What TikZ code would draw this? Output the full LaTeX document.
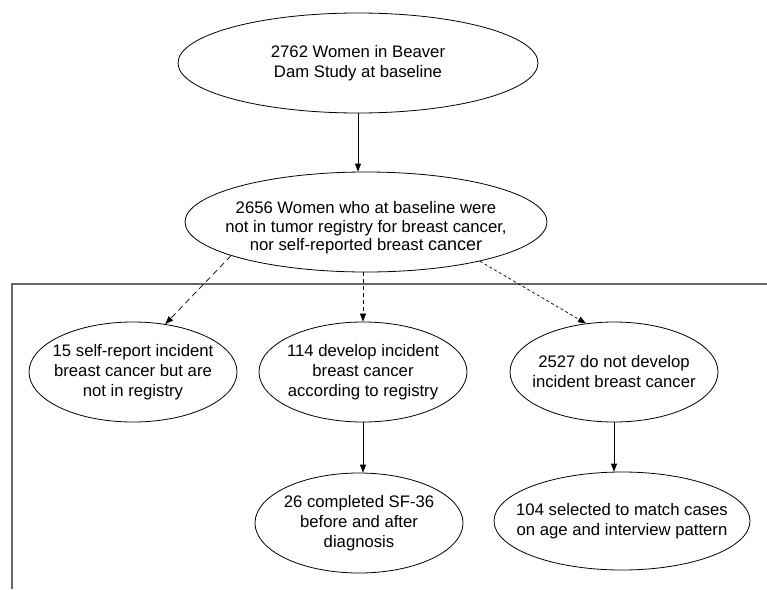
\documentclass[tikz,border=0pt]{standalone}
\usepackage{fontspec}
\setmainfont{Liberation Sans}
\usetikzlibrary{shapes.geometric, arrows.meta, calc}

\begin{document}
\begin{tikzpicture}[x=1pt, y=-1pt,
  bubble/.style={draw, ellipse, inner sep=0pt, line width=0.8pt, minimum width=208pt, minimum height=100pt},
  words/.style={align=center, inner sep=0pt, font=\fontsize{16.7}{20}\selectfont},
  solidarrow/.style={-{Triangle[length=8pt,width=6pt]}, line width=0.8pt},
  dasharrow/.style={-{Triangle[length=8pt,width=6pt]}, line width=0.7pt}]
\useasboundingbox (0,0) rectangle (767,589);
% frame line
\coordinate (frameA) at (12,589);
\coordinate (frameB) at (12,284);
\coordinate (frameC) at (767,284);
\draw[line width=1.8pt, color=black!60] (frameA) -- (frameB) -- (frameC);
% top ellipse
\node[bubble, minimum width=360pt] (base) at (358,63) {};
\node[words] (baseT) at (base) {2762 Women in Beaver\\Dam Study at baseline};
% second ellipse
\node[bubble, minimum width=362pt] (free) at (366,222) {};
\node[words, font=\fontsize{16.7}{18.5}\selectfont] (freeT) at (366,228) {2656 Women who at baseline were\\not in tumor registry for breast cancer,\\nor self-reported breast {\fontsize{18}{18.5}\selectfont cancer}};
% third row
\node[bubble] (selfrep) at (133,372) {};
\node[words] (selfrepT) at (selfrep) {15 self-report incident\\breast cancer but are\\not in registry};
\node[bubble] (cases) at (363,372) {};
\node[words] (casesT) at (cases) {114 develop incident\\breast cancer\\according to registry};
\node[bubble] (nocase) at (614,372) {};
\node[words] (nocaseT) at (nocase) {2527 do not develop\\incident breast cancer};
% bottom row
\node[bubble] (sfdone) at (359,523) {};
\node[words] (sfdoneT) at (sfdone) {26 completed SF-36\\before and after\\diagnosis};
\node[bubble, minimum width=256pt, minimum height=98pt] (match) at (622,521) {};
\node[words] (matchT) at (match) {104 selected to match cases\\on age and interview pattern};
% arrows
\draw[solidarrow] (base.south) -- (base.south |- free.north);
\draw[dasharrow, dash pattern=on 6pt off 4pt] (free.194) -- (selfrep.56);
\draw[dasharrow, dash pattern=on 4pt off 3pt] (free.south -| cases) -- (cases.north);
\draw[dasharrow, dash pattern=on 3pt off 2.5pt] (free.341) -- (nocase.120);
\draw[solidarrow] (cases.south) -- (cases.south |- sfdone.north);
\draw[solidarrow] (nocase.south) -- (nocase.south |- match.north);
\end{tikzpicture}
\end{document}
